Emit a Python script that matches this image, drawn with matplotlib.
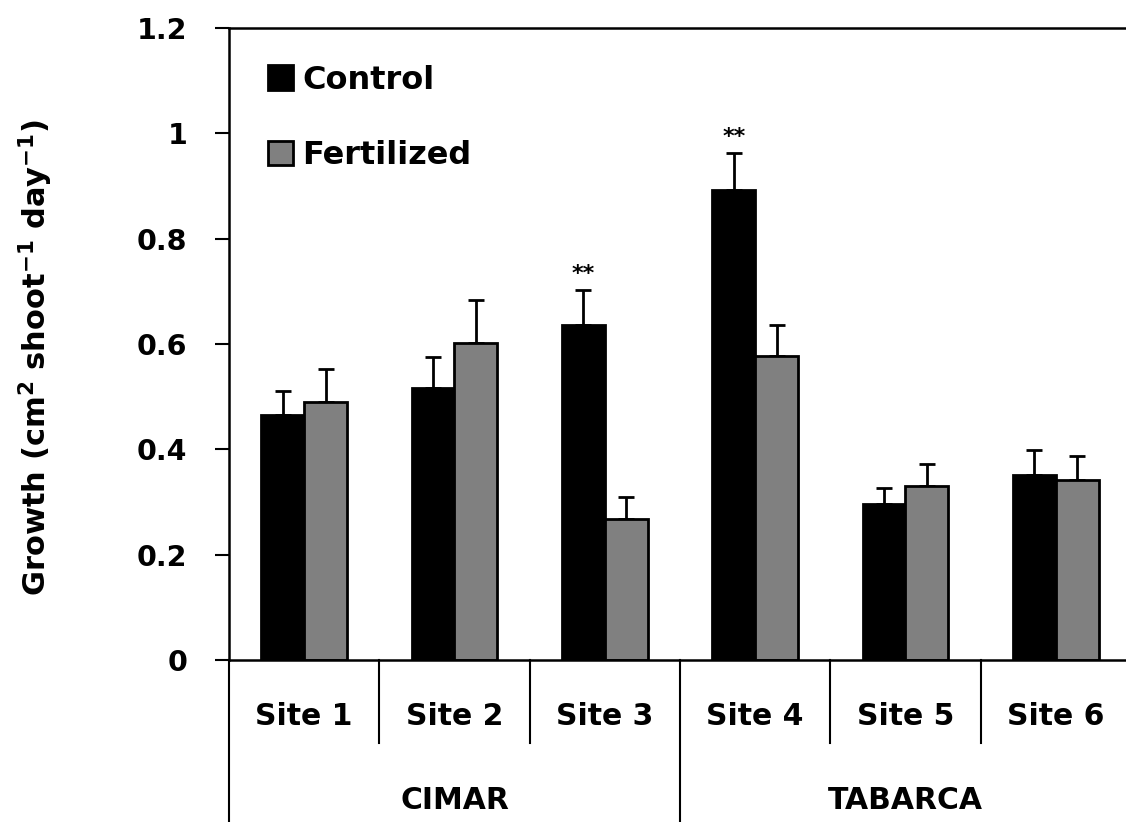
import numpy as np
import matplotlib.pyplot as plt

plt.rcParams['font.family'] = ['DejaVu Sans']
plt.rcParams['font.weight'] = 'bold'
plt.rcParams['mathtext.default'] = 'bf'

sites = ['Site 1', 'Site 2', 'Site 3', 'Site 4', 'Site 5', 'Site 6']
groups = ['CIMAR', 'TABARCA']
control = [0.465, 0.516, 0.637, 0.892, 0.297, 0.352]
control_err = [0.045, 0.060, 0.065, 0.070, 0.030, 0.047]
fert = [0.490, 0.602, 0.267, 0.577, 0.331, 0.342]
fert_err = [0.062, 0.081, 0.042, 0.060, 0.042, 0.046]
stars = {2: '**', 3: '**'}

fig = plt.figure(figsize=(11.26, 8.22), dpi=100)
ax = fig.add_axes([229/1126, 1-660/822, 902/1126, 632/822])

x = np.arange(len(sites))
w = 0.285
ax.bar(x - w/2, control, w, color='black', edgecolor='black', linewidth=2, label='Control', zorder=2)
ax.bar(x + w/2, fert, w, color='#808080', edgecolor='black', linewidth=2, label='Fertilized', zorder=2)
ax.errorbar(x - w/2, control, yerr=[np.zeros(len(x)), control_err], fmt='none',
            ecolor='black', elinewidth=2, capsize=6, capthick=2, zorder=1)
ax.errorbar(x + w/2, fert, yerr=[np.zeros(len(x)), fert_err], fmt='none',
            ecolor='black', elinewidth=2, capsize=6, capthick=2, zorder=1)
for i, s in stars.items():
    ax.text(x[i] - w/2, control[i] + control_err[i] + 0.02, s, ha='center', va='baseline', fontsize=16)

ax.set_xlim(-0.5, len(sites) - 0.5)
ax.set_ylim(0, 1.2)
ax.set_yticks(np.arange(0, 1.21, 0.2))
ax.set_yticklabels(['0', '0.2', '0.4', '0.6', '0.8', '1', '1.2'])
ax.tick_params(axis='y', direction='out', length=10, width=1.5, labelsize=20.5, pad=20)
ax.set_xticks([])
for sp in ['left', 'top', 'bottom']:
    ax.spines[sp].set_linewidth(1.8)
ax.spines['right'].set_visible(False)

# category axis: site labels, separators, group labels
tr = ax.get_xaxis_transform()
for i, s in enumerate(sites):
    ax.text(x[i], -0.09, s, transform=tr, ha='center', va='center', fontsize=21.5)
for b in [0.5, 1.5, 3.5, 4.5]:
    ax.plot([b, b], [0, -0.131], transform=tr, color='black', lw=1.5, clip_on=False)
for b in [-0.5, 2.5, 5.5]:
    ax.plot([b, b], [0, -0.26], transform=tr, color='black', lw=1.5, clip_on=False)
ax.text(1, -0.222, groups[0], transform=tr, ha='center', va='center', fontsize=21.5)
ax.text(4, -0.222, groups[1], transform=tr, ha='center', va='center', fontsize=21.5)

fig.text(36/1126, 1-358/822, 'Growth (cm$^{2}$ shoot$^{-1}$ day$^{-1}$)',
         rotation=90, ha='center', va='center', fontsize=22)
ax.legend(loc='upper left', bbox_to_anchor=(0.043, 0.942), frameon=False,
          prop={'weight': 'bold', 'size': 23}, handlelength=0.78, handleheight=0.8,
          handletextpad=0.3, labelspacing=1.4, borderaxespad=0, borderpad=0)

fig.savefig('out.png', dpi=100)
